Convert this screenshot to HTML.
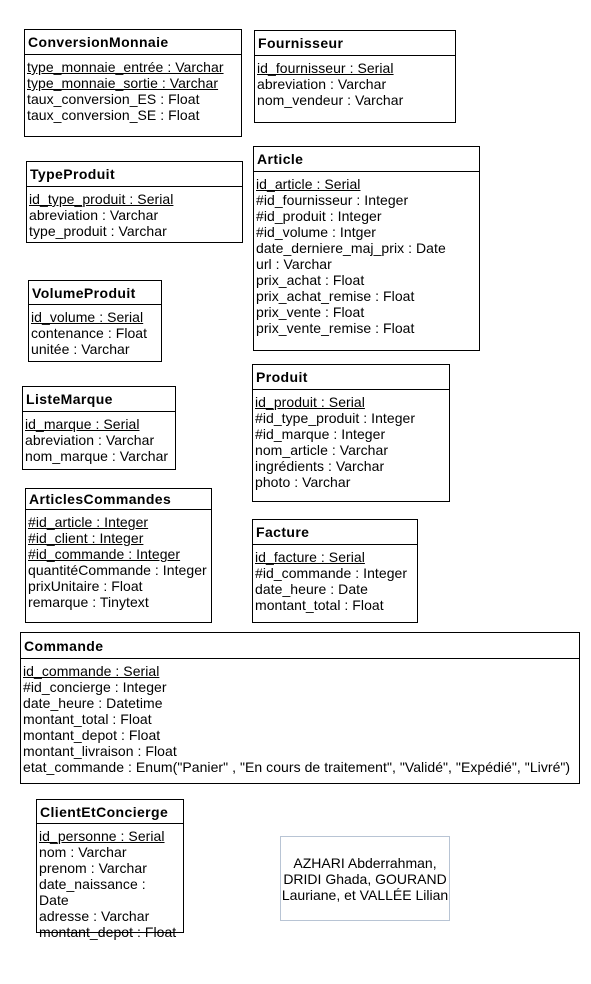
<!DOCTYPE html>
<html><head><meta charset="utf-8"><style>
body{margin:0;width:591px;height:984px;background:#fff;position:relative;font-family:"Liberation Sans",Arial,sans-serif;font-size:14px;letter-spacing:0.05px;color:#000;}
.b{position:absolute;border:1px solid #000;box-sizing:border-box;background:#fff;}
.h{font-weight:bold;padding-left:3px;border-bottom:1px solid #000;box-sizing:border-box;display:flex;align-items:center;letter-spacing:0.4px;}
.r{padding:4px 0 0 2px;line-height:16px;white-space:nowrap;}
u{text-decoration:underline;}
</style></head><body>

<div class="b" style="left:24px;top:29px;width:218px;height:108px"><div class="h" style="height:25px">ConversionMonnaie</div><div class="r"><u>type_monnaie_entrée : Varchar</u><br><u>type_monnaie_sortie : Varchar</u><br>taux_conversion_ES : Float<br>taux_conversion_SE : Float</div></div>

<div class="b" style="left:254px;top:30px;width:202px;height:93px"><div class="h" style="height:25px">Fournisseur</div><div class="r"><u>id_fournisseur : Serial</u><br>abreviation : Varchar<br>nom_vendeur : Varchar</div></div>

<div class="b" style="left:26px;top:161px;width:217px;height:82px"><div class="h" style="height:25px">TypeProduit</div><div class="r"><u>id_type_produit : Serial</u><br>abreviation : Varchar<br>type_produit : Varchar</div></div>

<div class="b" style="left:253px;top:146px;width:227px;height:205px"><div class="h" style="height:25px">Article</div><div class="r"><u>id_article : Serial</u><br>#id_fournisseur : Integer<br>#id_produit : Integer<br>#id_volume : Intger<br>date_derniere_maj_prix : Date<br>url : Varchar<br>prix_achat : Float<br>prix_achat_remise : Float<br>prix_vente : Float<br>prix_vente_remise : Float</div></div>

<div class="b" style="left:28px;top:280px;width:134px;height:82px"><div class="h" style="height:24px">VolumeProduit</div><div class="r"><u>id_volume : Serial</u><br>contenance : Float<br>unitée : Varchar</div></div>

<div class="b" style="left:22px;top:386px;width:154px;height:84px"><div class="h" style="height:25px">ListeMarque</div><div class="r"><u>id_marque : Serial</u><br>abreviation : Varchar<br>nom_marque : Varchar</div></div>

<div class="b" style="left:252px;top:364px;width:198px;height:138px"><div class="h" style="height:25px">Produit</div><div class="r"><u>id_produit : Serial</u><br>#id_type_produit : Integer<br>#id_marque : Integer<br>nom_article : Varchar<br>ingrédients : Varchar<br>photo : Varchar</div></div>

<div class="b" style="left:25px;top:488px;width:187px;height:135px"><div class="h" style="height:21px">ArticlesCommandes</div><div class="r"><u>#id_article : Integer</u><br><u>#id_client : Integer</u><br><u>#id_commande : Integer</u><br>quantitéCommande : Integer<br>prixUnitaire : Float<br>remarque : Tinytext</div></div>

<div class="b" style="left:252px;top:519px;width:166px;height:104px"><div class="h" style="height:25px">Facture</div><div class="r"><u>id_facture : Serial</u><br>#id_commande : Integer<br>date_heure : Date<br>montant_total : Float</div></div>

<div class="b" style="left:20px;top:632px;width:560px;height:152px"><div class="h" style="height:26px">Commande</div><div class="r"><u>id_commande : Serial</u><br>#id_concierge : Integer<br>date_heure : Datetime<br>montant_total : Float<br>montant_depot : Float<br>montant_livraison : Float<br>etat_commande : Enum("Panier" , "En cours de traitement", "Validé", "Expédié", "Livré")</div></div>

<div class="b" style="left:36px;top:799px;width:148px;height:134px;overflow:visible"><div class="h" style="height:24px">ClientEtConcierge</div><div class="r">
<u>id_personne : Serial</u><br>nom : Varchar<br>prenom : Varchar<br>date_naissance :<br>Date<br>adresse : Varchar<br>montant_depot : Float</div></div>

<div style="position:absolute;left:280px;top:836px;width:170px;height:85px;border:1px solid #b8c4d4;box-sizing:border-box;display:flex;align-items:center;justify-content:center;text-align:center;line-height:16px;font-size:14px;letter-spacing:0;white-space:nowrap">AZHARI Abderrahman,<br>DRIDI Ghada, GOURAND<br>Lauriane, et VALLÉE Lilian</div>

</body></html>
